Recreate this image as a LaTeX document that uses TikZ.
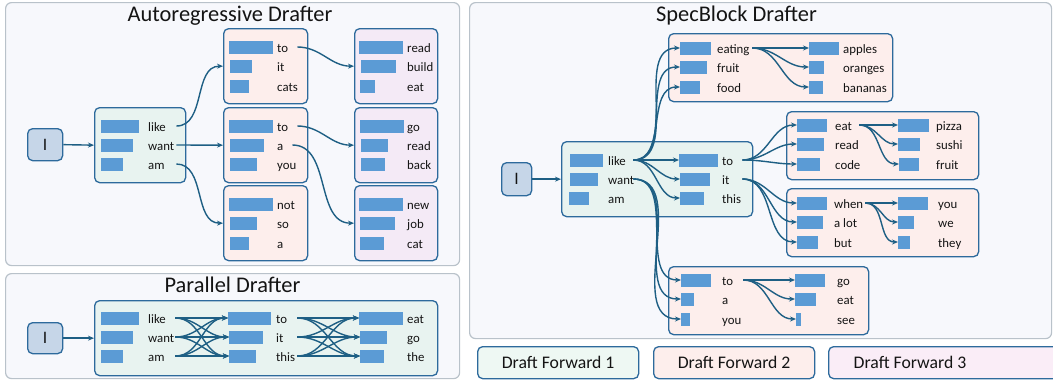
\documentclass[tikz,border=0pt]{standalone}
\usepackage{fontspec}
\setmainfont{Carlito}
\usetikzlibrary{arrows.meta}
\definecolor{panelfill}{HTML}{F7F8FC}
\definecolor{panelline}{HTML}{B9C2CA}
\definecolor{boxblue}{HTML}{2D6A9C}
\definecolor{greenfill}{HTML}{E8F3F0}
\definecolor{pinkfill}{HTML}{FDEEEC}
\definecolor{purplefill}{HTML}{F4EAF6}
\definecolor{ifill}{HTML}{C6D6E8}
\definecolor{barblue}{HTML}{5B9BD5}
\definecolor{arrc}{HTML}{1E5F84}
\definecolor{txt}{HTML}{141414}
\definecolor{legA}{HTML}{EEF8F3}
\definecolor{legB}{HTML}{FDEEEC}
\definecolor{legC}{HTML}{FAEDF7}
\tikzset{
  panel/.style={draw=panelline, fill=panelfill, line width=1.2pt, rounded corners=6pt, anchor=north west, inner sep=0pt},
  cbox/.style={draw=boxblue, line width=1.3pt, rounded corners=5pt, anchor=north west, inner sep=0pt},
  gbox/.style={cbox, fill=greenfill},
  pbox/.style={cbox, fill=pinkfill},
  vbox/.style={cbox, fill=purplefill},
  ibox/.style={cbox, fill=ifill},
  itext/.style={font=\fontsize{17.5}{20}\selectfont, text=txt},
  bar/.style={fill=barblue, draw=none, minimum height=13pt, inner sep=0pt, anchor=west},
  word/.style={font=\fontsize{12.8}{14}\selectfont, text=txt, inner sep=0pt, anchor=west, text height=10pt, text depth=0pt, align=left},
  title/.style={font=\fontsize{22.4}{25}\selectfont, text=txt, anchor=base, inner sep=0pt},
  leg/.style={cbox, font=\fontsize{17.7}{20}\selectfont, text=txt},
  arr/.style={draw=arrc, line width=1.4pt, -{Stealth[length=6pt,width=5pt]}},
}
\newcommand\tokrow[7][]{%
  \node[bar, minimum width=#4pt] (#2-b) at (#3,#6) {};
  \node[word, #1] (#2-w) at (#5,#6) {#7};}
\begin{document}
\begin{tikzpicture}[x=1pt, y=-1pt]
\useasboundingbox (0,0) rectangle (1053,381);
% panels
\node[panel, minimum width=454pt, minimum height=263pt] (panA) at (5,2) {};
\node[panel, minimum width=454pt, minimum height=105pt] (panP) at (5,273) {};
\node[panel, minimum width=582pt, minimum height=336pt] (panS) at (469,2) {};
\node[title] (tA) at (230,21.7) {Autoregressive Drafter};
\node[title] (tP) at (232.5,292) {Parallel Drafter};
\node[title] (tS) at (736.5,21.7) {SpecBlock Drafter};
% ---------------- Autoregressive ----------------
\node[ibox, minimum width=35pt, minimum height=32pt] (ai) at (27,128) {};
\node[itext] (aiT) at (ai.center) {I};
\node[gbox, minimum width=91pt, minimum height=75pt] (ag) at (94,107) {};
\node[pbox, minimum width=84pt, minimum height=75pt] (ap1) at (223,28) {};
\node[pbox, minimum width=84pt, minimum height=75pt] (ap2) at (223,107) {};
\node[pbox, minimum width=84pt, minimum height=75pt] (ap3) at (223,185) {};
\node[vbox, minimum width=83pt, minimum height=75pt] (av1) at (354,28) {};
\node[vbox, minimum width=83pt, minimum height=75pt] (av2) at (354,107) {};
\node[vbox, minimum width=83pt, minimum height=75pt] (av3) at (354,185) {};
\tokrow[text width=28pt]{al}{101}{38}{148}{126}{like}
\tokrow[text width=28pt]{aw}{101}{32}{148}{145}{want}
\tokrow[text width=28pt]{aa}{101}{22}{148}{164}{am}
\tokrow[text width=20pt]{a1to}{229}{44}{277}{47}{to}
\tokrow{a1it}{230}{22}{277}{66}{it}
\tokrow{a1cats}{230}{19}{277}{86}{cats}
\tokrow[text width=20pt]{a2to}{229}{44}{277}{126}{to}
\tokrow[text width=15pt]{a2a}{230}{34}{277}{145}{a}
\tokrow{a2you}{230}{27}{277}{164}{you}
\tokrow{a3not}{229}{44}{277}{204}{not}
\tokrow{a3so}{230}{27}{277}{223}{so}
\tokrow{a3a}{230}{19}{277}{243}{a}
\tokrow{b1read}{359}{44}{407}{47}{read}
\tokrow{b1build}{361}{35}{407}{66}{build}
\tokrow{b1eat}{360}{15}{407}{86}{eat}
\tokrow{b2go}{360}{44}{407}{126}{go}
\tokrow{b2read}{361}{27}{407}{145}{read}
\tokrow{b2back}{361}{24}{407}{164}{back}
\tokrow{b3new}{359}{44}{407}{204}{new}
\tokrow{b3job}{360}{35}{407}{223}{job}
\tokrow{b3cat}{360}{24}{407}{243}{cat}
\draw[arr] (ai.east) -- (ag.west);
\draw[arr] (al-w.east) to[out=0,in=180] (ap1.west);
\draw[arr] (aw-w.east) -- (ap2.west);
\draw[arr] (aa-w.east) to[out=0,in=180] (ap3.west);
\draw[arr] (a1to-w.east) to[out=0,in=180] (av1.west);
\draw[arr] (a2to-w.east) to[out=0,in=180] (av2.west);
\draw[arr] (a2a-w.east) to[out=0,in=180] (av3.west);
% ---------------- Parallel ----------------
\node[ibox, minimum width=35pt, minimum height=31pt] (pi) at (27,322) {};
\node[itext] (piT) at (pi.center) {I};
\node[gbox, minimum width=343pt, minimum height=75pt] (pg) at (94,300) {};
\tokrow[text width=27pt]{pl}{101}{38}{148}{318}{like}
\tokrow[text width=27pt]{pw}{101}{32}{148}{337}{want}
\tokrow[text width=27pt]{pa}{101}{22}{148}{356}{am}
\tokrow[text width=21pt]{pto}{228}{43}{276}{318}{to}
\tokrow[text width=21pt]{pit}{229}{34}{276}{337}{it}
\tokrow[text width=21pt]{pthis}{229}{27}{276}{356}{this}
\tokrow{peat}{359}{44}{407}{318}{eat}
\tokrow{pgo}{360}{27}{407}{337}{go}
\tokrow{pthe}{360}{24}{407}{356}{the}
\draw[arr] (pi.east) -- (pi.east -| pg.west);
\foreach \sr in {pl,pw,pa}{\foreach \tg in {pto,pit,pthis}{\draw[arr] (\sr-w.east) to[out=0,in=180] (\tg-b.west);}}
\foreach \sr in {pto,pit,pthis}{\foreach \tg in {peat,pgo,pthe}{\draw[arr] (\sr-w.east) to[out=0,in=180] (\tg-b.west);}}
% ---------------- SpecBlock ----------------
\node[ibox, minimum width=30pt, minimum height=33pt] (si) at (501,162) {};
\node[itext] (siT) at (si.center) {I};
\node[gbox, minimum width=191pt, minimum height=75pt] (sg) at (561,141) {};
\node[pbox, minimum width=224pt, minimum height=68pt] (st) at (668,33) {};
\node[pbox, minimum width=192pt, minimum height=68pt] (sm) at (786,111) {};
\node[pbox, minimum width=192pt, minimum height=68pt] (sr) at (786,188) {};
\node[pbox, minimum width=200pt, minimum height=68pt] (sb) at (668,266) {};
\tokrow[text width=25pt]{sl}{570}{33}{608}{160}{like}
\tokrow[text width=25pt]{sw}{570}{28}{608}{179}{want}
\tokrow{sa}{569}{20}{608}{198}{am}
\tokrow[text width=20pt]{sto}{679}{39}{722}{160}{to}
\tokrow[text width=20pt]{sit}{680}{30}{722}{179}{it}
\tokrow{sthis}{680}{24}{722}{198}{this}
\tokrow[text width=35pt]{teating}{680}{31}{717}{48}{eating}
\tokrow{tfruit}{680}{27}{717}{67}{fruit}
\tokrow{tfood}{680}{20}{717}{87}{food}
\tokrow{tapples}{809}{30}{843}{48}{apples}
\tokrow{toranges}{809}{15}{843}{67}{oranges}
\tokrow{tbananas}{809}{14}{843}{87}{bananas}
\tokrow[text width=24pt]{meat}{797}{30}{835}{125}{eat}
\tokrow{mread}{797}{27}{835}{144}{read}
\tokrow{mcode}{797}{23}{835}{164}{code}
\tokrow{mpizza}{898}{31}{936}{125}{pizza}
\tokrow{msushi}{898}{22}{936}{144}{sushi}
\tokrow{mfruit}{899}{20}{936}{164}{fruit}
\tokrow[text width=31pt]{lwhen}{797}{30}{834}{203}{when}
\tokrow{lalot}{797}{26}{834}{222}{a lot}
\tokrow{lbut}{797}{21}{834}{242}{but}
\tokrow{lyou}{898}{30}{938}{203}{you}
\tokrow{lwe}{898}{16}{938}{222}{we}
\tokrow{lthey}{898}{12}{938}{242}{they}
\tokrow[text width=21pt]{bto}{681}{30}{722}{280}{to}
\tokrow{ba}{681}{13}{722}{299}{a}
\tokrow{byou}{681}{9}{722}{319}{you}
\tokrow{bgo}{795}{30}{837}{280}{go}
\tokrow{beat}{795}{21}{837}{299}{eat}
\tokrow{bsee}{796}{5}{837}{319}{see}
\draw[arr] (si.east) -- (si.east -| sg.west);
\foreach \tg in {teating,tfruit,tfood,sto,sit,sthis}{\draw[arr] (sl-w.east) to[out=0,in=180] (\tg-b.west);}
\foreach \tg in {bto,ba,byou}{\draw[arr] (sw-w.east) to[out=0,in=180] (\tg-b.west);}
\foreach \tg in {meat,mread,mcode}{\draw[arr] (sto-w.east) to[out=0,in=180] (\tg-b.west);}
\foreach \tg in {lwhen,lalot,lbut}{\draw[arr] (sit-w.east) to[out=0,in=180] (\tg-b.west);}
\foreach \tg in {tapples,toranges,tbananas}{\draw[arr] (teating-w.east) to[out=0,in=180] (\tg-b.west);}
\foreach \tg in {mpizza,msushi,mfruit}{\draw[arr] (meat-w.east) to[out=0,in=180] (\tg-b.west);}
\foreach \tg in {lyou,lwe,lthey}{\draw[arr] (lwhen-w.east) to[out=0,in=180] (\tg-b.west);}
\foreach \tg in {bgo,beat,bsee}{\draw[arr] (bto-w.east) to[out=0,in=180] (\tg-b.west);}
% ---------------- Legend ----------------
\node[leg, fill=legA, minimum width=161pt, minimum height=32pt] (L1) at (477,346) {Draft Forward 1};
\node[leg, fill=legB, minimum width=161pt, minimum height=32pt] (L2) at (653,346) {Draft Forward 2};
\node[leg, fill=legC, minimum width=232pt, minimum height=32pt] (L3) at (828,346) {};
\node[font=\fontsize{17.7}{20}\selectfont, text=txt, inner sep=0pt] (L3T) at (910,362) {Draft Forward 3};
\end{tikzpicture}
\end{document}
